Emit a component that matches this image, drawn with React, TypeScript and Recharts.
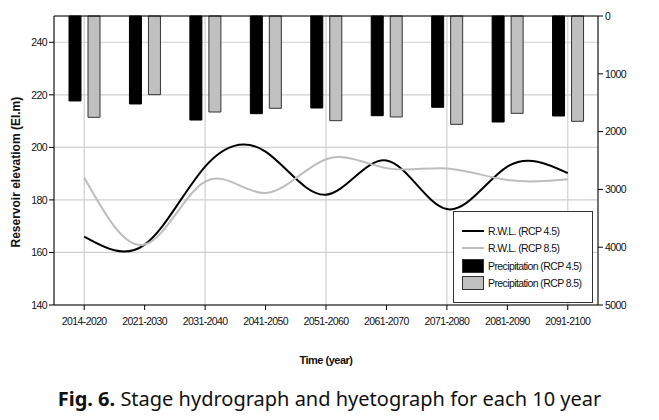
import React from 'react';
import { ComposedChart, CartesianGrid, XAxis, YAxis, Bar, Line, ReferenceLine } from 'recharts';

const periods = ['2014-2020', '2021-2030', '2031-2040', '2041-2050', '2051-2060', '2061-2070', '2071-2080', '2081-2090', '2091-2100'];
const rwl45 = [166, 163, 192.7, 198.4, 182, 195, 176.5, 192.7, 190.2];
const rwl85 = [188.5, 163, 187, 182.6, 195.5, 192.1, 192, 187.6, 187.9];
const precip45 = [1470, 1522, 1800, 1690, 1592, 1725, 1580, 1834, 1730];
const precip85 = [1753, 1361, 1661, 1597, 1811, 1747, 1874, 1684, 1822];
const elevTicks = [140, 160, 180, 200, 220, 240];
const precipTicks = [0, 1000, 2000, 3000, 4000, 5000];

const data = periods.map((p, i) => ({
  period: p,
  rwl45: rwl45[i],
  rwl85: rwl85[i],
  precip45: precip45[i],
  precip85: precip85[i],
}));

const font = '"Liberation Sans", Arial, sans-serif';
const tickStyle = { fontSize: 10.5, fill: '#111', fontFamily: font, letterSpacing: -0.6 };

const legendItems = [
  { label: 'R.W.L. (RCP 4.5)', kind: 'line', color: '#000' },
  { label: 'R.W.L. (RCP 8.5)', kind: 'line', color: '#bdbdbd' },
  { label: 'Precipitation (RCP 4.5)', kind: 'rect', color: '#000' },
  { label: 'Precipitation (RCP 8.5)', kind: 'rect', color: '#c0c0c0' },
];

// legend drawn as an overlay so it doesn't steal height from the plot
const ChartLegend = () => (
  <div style={{ position: 'absolute', left: 453, top: 211, width: 140, height: 92, border: '1px solid #333', background: '#fff', boxSizing: 'border-box', padding: '10px 0 0 8px', fontFamily: font, fontSize: 10.5, color: '#111' }}>
    {legendItems.map((it) => (
      <div key={it.label} style={{ display: 'flex', alignItems: 'center', height: 17.5, whiteSpace: 'nowrap' }}>
        {it.kind === 'line' ? (
          <div style={{ width: 22, height: 2, background: it.color, marginRight: 4 }} />
        ) : (
          <div style={{ width: 20, height: 12, background: it.color, border: '1px solid #333', marginRight: 4 }} />
        )}
        <span style={{ letterSpacing: -0.6 }}>{it.label}</span>
      </div>
    ))}
  </div>
);

export default function App() {
  return (
    <div style={{ position: 'absolute', left: 0, top: 0, width: 659, height: 420, background: '#fff' }}>
      <ComposedChart width={659} height={370} data={data} margin={{ top: 16, right: 0, bottom: 0, left: 0 }} barGap={7} barCategoryGap={15}>
        <CartesianGrid yAxisId="left" stroke="#cfcfcf" strokeWidth={1.2} />
        <XAxis dataKey="period" tick={tickStyle} tickSize={5} tickMargin={8} tickLine={{ stroke: '#000' }} axisLine={{ stroke: '#000' }} height={65}
          label={{ value: 'Time (year)', position: 'insideBottom', offset: 6, style: { fontSize: 11, fontWeight: 'bold', fill: '#111', fontFamily: font, letterSpacing: -0.5 } }} />
        <YAxis yAxisId="left" domain={[140, 250]} ticks={elevTicks} width={54} tick={tickStyle} tickSize={5} tickLine={{ stroke: '#000' }} axisLine={{ stroke: '#000' }}
          label={{ value: 'Reservoir elevatiom (El.m)', angle: -90, position: 'insideLeft', offset: 16, dy: 87, style: { fontSize: 12, fontWeight: 'bold', fill: '#111', fontFamily: font } }} />
        <YAxis yAxisId="right" orientation="right" reversed domain={[0, 5000]} ticks={precipTicks} width={61} tick={tickStyle} tickSize={5} tickLine={{ stroke: '#000' }} axisLine={{ stroke: '#000' }} />
        <ReferenceLine yAxisId="left" y={250} stroke="#000" />
        <Bar yAxisId="right" dataKey="precip45" fill="#000" stroke="#000" isAnimationActive={false} />
        <Bar yAxisId="right" dataKey="precip85" fill="#c0c0c0" stroke="#333" isAnimationActive={false} />
        <Line yAxisId="left" type="natural" dataKey="rwl45" stroke="#000" strokeWidth={2} dot={false} isAnimationActive={false} />
        <Line yAxisId="left" type="natural" dataKey="rwl85" stroke="#bdbdbd" strokeWidth={2} dot={false} isAnimationActive={false} />
      </ComposedChart>
      <ChartLegend />
      <div style={{ position: 'absolute', top: 385, left: 0, width: 659, textAlign: 'center', fontFamily: '"Noto Sans", sans-serif', fontSize: 20, color: '#111' }}>
        <b>Fig. 6.</b> Stage hydrograph and hyetograph for each 10 year
      </div>
    </div>
  );
}
